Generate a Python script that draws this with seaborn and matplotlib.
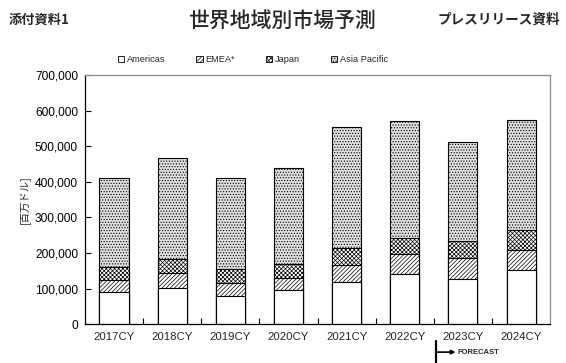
import numpy as np
import pandas as pd
import matplotlib
matplotlib.use("Agg")
import matplotlib.pyplot as plt
from matplotlib.patches import Patch
from matplotlib.ticker import FuncFormatter
import seaborn as sns

# data (US$ millions)
years = ["2017CY", "2018CY", "2019CY", "2020CY", "2021CY", "2022CY", "2023CY", "2024CY"]
americas = [89000, 101000, 78000, 95000, 119000, 140000, 128000, 151000]
emea = [36000, 44000, 39000, 36000, 48000, 56000, 57000, 58000]
japan = [36000, 39000, 37000, 38000, 46000, 46000, 49000, 57000]
asia_pacific = [249000, 284000, 256000, 271000, 341000, 330000, 279000, 309000]

sns.set_theme(style="white")
plt.rcParams["font.family"] = ["Liberation Sans", "Noto Sans CJK JP", "DejaVu Sans"]
plt.rcParams["hatch.linewidth"] = 0.5

df = pd.DataFrame({"year": years, "Americas": americas, "EMEA": emea,
                   "Japan": japan, "Asia Pacific": asia_pacific})
df["c_am"] = df["Americas"]
df["c_emea"] = df["c_am"] + df["EMEA"]
df["c_jp"] = df["c_emea"] + df["Japan"]
df["c_ap"] = df["c_jp"] + df["Asia Pacific"]

fig = plt.figure(figsize=(5.66, 3.63), dpi=100)
ax = fig.add_axes([0.150, 0.107, 0.822, 0.686])

H_AP, H_JP, H_EM = "......", "xxxxxxxx", "////////"

# stacked bars drawn as overlapping cumulative totals, top layer first
layers = [
    ("c_ap", "#dedede", H_AP),
    ("c_jp", "#ffffff", H_JP),
    ("c_emea", "#ffffff", H_EM),
    ("c_am", "#ffffff", None),
]
for col, fc, hatch in layers:
    sns.barplot(data=df, x="year", y=col, color=fc, edgecolor="black",
                linewidth=0.8, width=0.5, hatch=hatch, saturation=1, ax=ax)

ax.set_ylim(0, 700000)
ax.set_xlim(-0.5, len(years) - 0.5)
ax.set_yticks(np.arange(0, 700001, 100000))
ax.yaxis.set_major_formatter(FuncFormatter(lambda v, p: f"{int(v):,}"))
ax.set_xlabel("")
ax.set_ylabel("[百万ドル]", fontsize=7.5, family=["Noto Sans CJK JP"], labelpad=3)
ax.tick_params(axis="y", direction="in", length=4, width=0.8, labelsize=8.6,
               colors="black", left=True, pad=5)
ax.tick_params(axis="x", which="major", length=0, labelsize=8.2, pad=6)
ax.set_xticks(np.arange(0.5, len(years) - 0.5, 1), minor=True)
ax.tick_params(axis="x", which="minor", direction="in", length=4, width=0.8,
               color="black", bottom=True)

for side in ["left", "bottom"]:
    ax.spines[side].set_color("black")
    ax.spines[side].set_linewidth(0.9)
for side in ["top", "right"]:
    ax.spines[side].set_color("#8c8c8c")
    ax.spines[side].set_linewidth(0.9)

handles = [
    Patch(facecolor="white", edgecolor="black", linewidth=0.6, label="Americas"),
    Patch(facecolor="white", edgecolor="black", linewidth=0.6, hatch=H_EM, label="EMEA*"),
    Patch(facecolor="white", edgecolor="black", linewidth=0.6, hatch=H_JP, label="Japan"),
    Patch(facecolor="#dedede", edgecolor="black", linewidth=0.6, hatch=H_AP, label="Asia Pacific"),
]
fig.legend(handles=handles, loc="center", bbox_to_anchor=(0.447, 0.835), ncol=4,
           frameon=False, fontsize=6.7, handlelength=0.7, handleheight=0.7,
           handletextpad=0.3, columnspacing=3.3)

fig.text(0.015, 0.945, "添付資料1", fontsize=9.5, fontweight="bold",
         family=["Noto Sans CJK JP"], va="center", ha="left")
fig.text(0.498, 0.94, "世界地域別市場予測", fontsize=15, fontweight="medium",
         family=["Noto Sans CJK JP"], va="center", ha="center")
fig.text(0.99, 0.945, "プレスリリース資料", fontsize=9.8, fontweight="bold",
         family=["Noto Sans CJK JP"], va="center", ha="right")

# forecast marker below 2023CY
fig.lines.append(plt.Line2D([0.770, 0.770], [0.0, 0.060], transform=fig.transFigure,
                            color="black", linewidth=1.6))
ax.annotate("", xy=(0.805, 0.030), xytext=(0.770, 0.030), xycoords="figure fraction",
            arrowprops=dict(arrowstyle="-|>", color="black", lw=1.2,
                            mutation_scale=6, shrinkA=0, shrinkB=0))
fig.text(0.808, 0.030, "FORECAST", fontsize=5.5, fontweight="bold",
         va="center", ha="left")

fig.savefig("out.png", dpi=100)
